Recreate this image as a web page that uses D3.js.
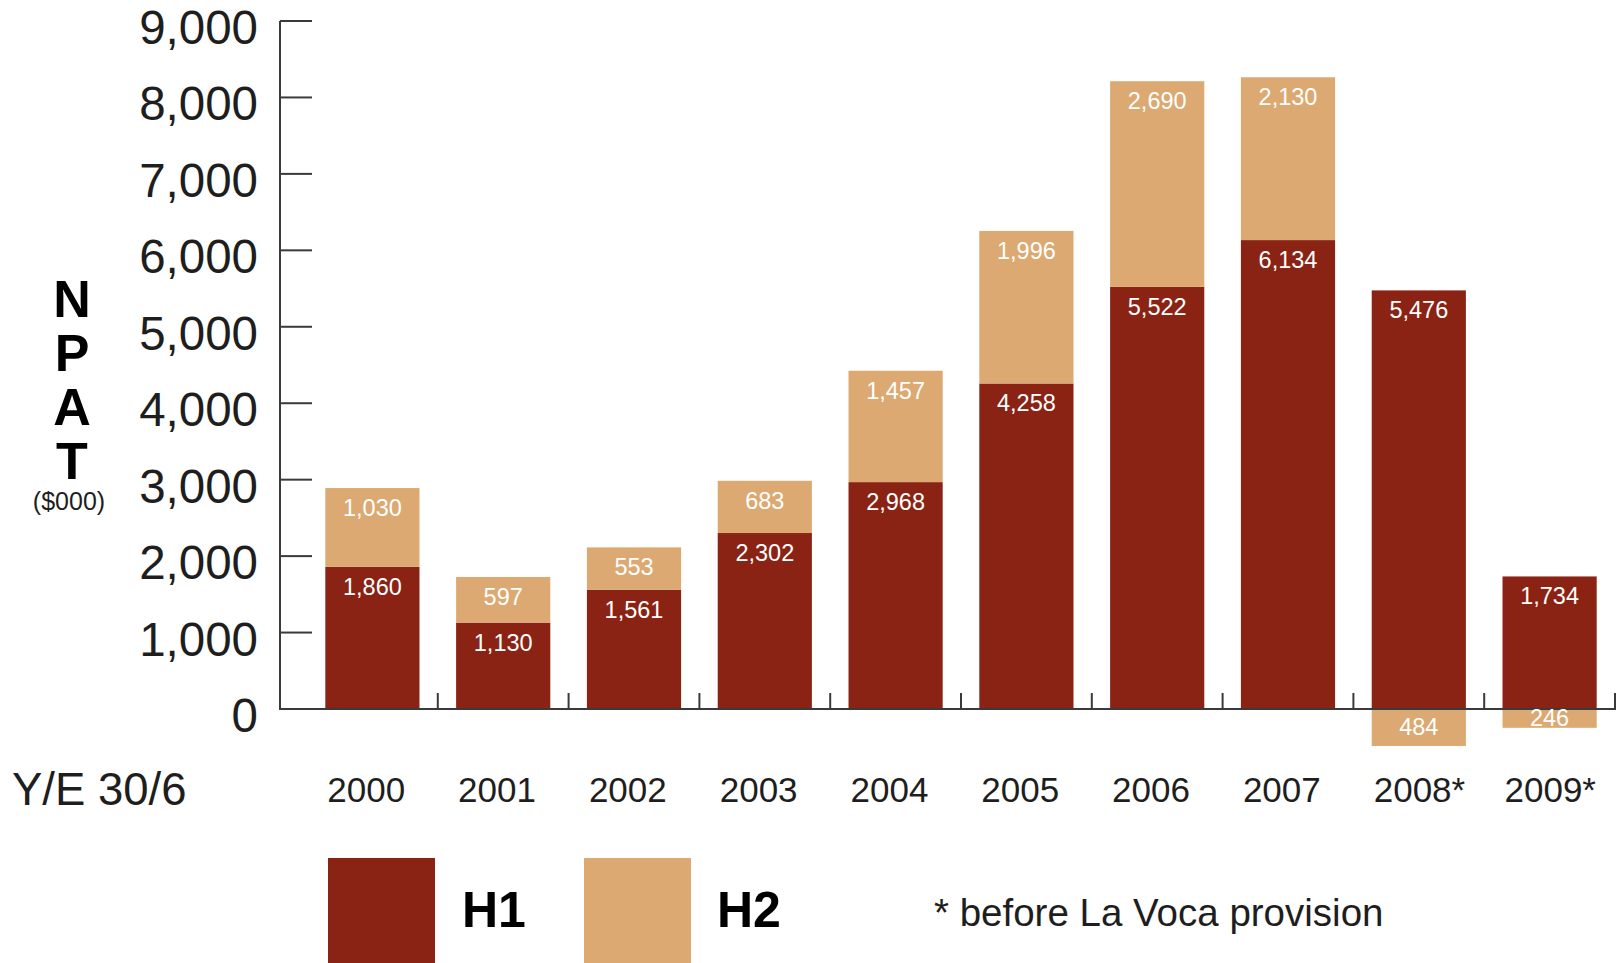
<!DOCTYPE html>
<html>
<head>
<meta charset="utf-8">
<script src="https://cdn.jsdelivr.net/npm/d3@7"></script>
<style>
  html, body { margin: 0; padding: 0; background: #fff; }
  svg { display: block; font-family: "Liberation Sans", Arial, Helvetica, sans-serif; }
</style>
</head>
<body>
<div id="chart"></div>
<script>
// NPAT by half year, $000
const years = ['2000', '2001', '2002', '2003', '2004', '2005', '2006', '2007', '2008*', '2009*'];
const h1Values = [1860, 1130, 1561, 2302, 2968, 4258, 5522, 6134, 5476, 1734];
const h2Values = [1030, 597, 553, 683, 1457, 1996, 2690, 2130, -484, -246];
const yTicks = [0, 1000, 2000, 3000, 4000, 5000, 6000, 7000, 8000, 9000];

const width = 1621;
const height = 963;
const H1_COLOR = '#8a2314';
const H2_COLOR = '#dba971';
const AXIS_COLOR = '#3a3a3a';
const fmt = d3.format(',');

const svg = d3.select('#chart')
  .append('svg')
  .attr('width', width)
  .attr('height', height);

const x = d3.scaleBand()
  .domain(years)
  .range([307, 1615])
  .paddingInner(0.28)
  .paddingOuter(0.14);
const y = d3.scaleLinear()
  .domain([0, 9000])
  .range([709, 21]);

// Y axis: line + inward ticks, labels on the left
svg.append('line')
  .attr('x1', 280).attr('x2', 280)
  .attr('y1', y(9000)).attr('y2', y(0))
  .attr('stroke', AXIS_COLOR).attr('stroke-width', 2);
svg.selectAll('.ytick')
  .data(yTicks.filter(d => d > 0))
  .join('line')
  .attr('class', 'ytick')
  .attr('x1', 280).attr('x2', 312)
  .attr('y1', d => y(d)).attr('y2', d => y(d))
  .attr('stroke', AXIS_COLOR).attr('stroke-width', 2);
svg.selectAll('.ylabel')
  .data(yTicks)
  .join('text')
  .attr('class', 'ylabel')
  .attr('x', 258)
  .attr('y', d => y(d) + 23)
  .attr('text-anchor', 'end')
  .attr('font-size', 47.5)
  .attr('fill', '#1e1e1e')
  .text(d => fmt(d));

// Bars: H1 from zero, H2 stacked on top (or hanging below zero when negative)
const bars = svg.append('g');
bars.selectAll('.h1')
  .data(years)
  .join('rect')
  .attr('class', 'h1')
  .attr('x', d => x(d))
  .attr('width', x.bandwidth())
  .attr('y', (d, i) => y(h1Values[i]))
  .attr('height', (d, i) => y(0) - y(h1Values[i]))
  .attr('fill', H1_COLOR);
bars.selectAll('.h2')
  .data(years)
  .join('rect')
  .attr('class', 'h2')
  .attr('x', d => x(d))
  .attr('width', x.bandwidth())
  .attr('y', (d, i) => h2Values[i] >= 0 ? y(h1Values[i] + h2Values[i]) : y(0))
  .attr('height', (d, i) => Math.abs(y(0) - y(Math.abs(h2Values[i]))))
  .attr('fill', H2_COLOR);

// X axis drawn over the bars
svg.append('line')
  .attr('x1', 279).attr('x2', 1616)
  .attr('y1', y(0)).attr('y2', y(0))
  .attr('stroke', AXIS_COLOR).attr('stroke-width', 2);
svg.selectAll('.xtick')
  .data(years)
  .join('line')
  .attr('class', 'xtick')
  .attr('x1', d => x(d) + x.bandwidth() / 2 + x.step() / 2)
  .attr('x2', d => x(d) + x.bandwidth() / 2 + x.step() / 2)
  .attr('y1', y(0) - 16).attr('y2', y(0))
  .attr('stroke', AXIS_COLOR).attr('stroke-width', 2);

// Value labels
const labels = svg.append('g')
  .attr('font-size', 23.5)
  .attr('fill', '#fff')
  .attr('text-anchor', 'middle');
labels.selectAll('.l1')
  .data(years)
  .join('text')
  .attr('x', d => x(d) + x.bandwidth() / 2)
  .attr('y', (d, i) => y(h1Values[i]) + 28)
  .text((d, i) => fmt(h1Values[i]));
labels.selectAll('.l2')
  .data(years)
  .join('text')
  .attr('x', d => x(d) + x.bandwidth() / 2)
  .attr('y', (d, i) => h2Values[i] >= 0
    ? y(h1Values[i] + h2Values[i]) + 28
    : y(0) + (y(0) - y(-h2Values[i])) / 2 + 8)
  .text((d, i) => fmt(Math.abs(h2Values[i])));

// Category labels
svg.selectAll('.xlabel')
  .data(years)
  .join('text')
  .attr('x', d => x(d) + 2)
  .attr('y', 802)
  .attr('font-size', 35)
  .attr('fill', '#1e1e1e')
  .text(d => d);
svg.append('text')
  .attr('x', 12).attr('y', 805)
  .attr('font-size', 45.5)
  .attr('fill', '#1e1e1e')
  .text('Y/E 30/6');

// Stacked axis title
svg.selectAll('.npat')
  .data(['N', 'P', 'A', 'T'])
  .join('text')
  .attr('x', 72)
  .attr('y', (d, i) => 317 + i * 54)
  .attr('text-anchor', 'middle')
  .attr('font-size', 52)
  .attr('font-weight', 'bold')
  .attr('fill', '#000')
  .text(d => d);
svg.append('text')
  .attr('x', 69).attr('y', 510)
  .attr('text-anchor', 'middle')
  .attr('font-size', 25)
  .attr('fill', '#1e1e1e')
  .text('($000)');

// Legend
const legend = svg.append('g');
legend.append('rect').attr('x', 328).attr('y', 858).attr('width', 107).attr('height', 110).attr('fill', H1_COLOR);
legend.append('text').attr('x', 462).attr('y', 927).attr('font-size', 50).attr('font-weight', 'bold').attr('fill', '#000').text('H1');
legend.append('rect').attr('x', 584).attr('y', 858).attr('width', 107).attr('height', 110).attr('fill', H2_COLOR);
legend.append('text').attr('x', 717).attr('y', 927).attr('font-size', 50).attr('font-weight', 'bold').attr('fill', '#000').text('H2');
legend.append('text').attr('x', 934).attr('y', 926).attr('font-size', 38.5).attr('fill', '#1e1e1e').text('* before La Voca provision');
</script>
</body>
</html>
